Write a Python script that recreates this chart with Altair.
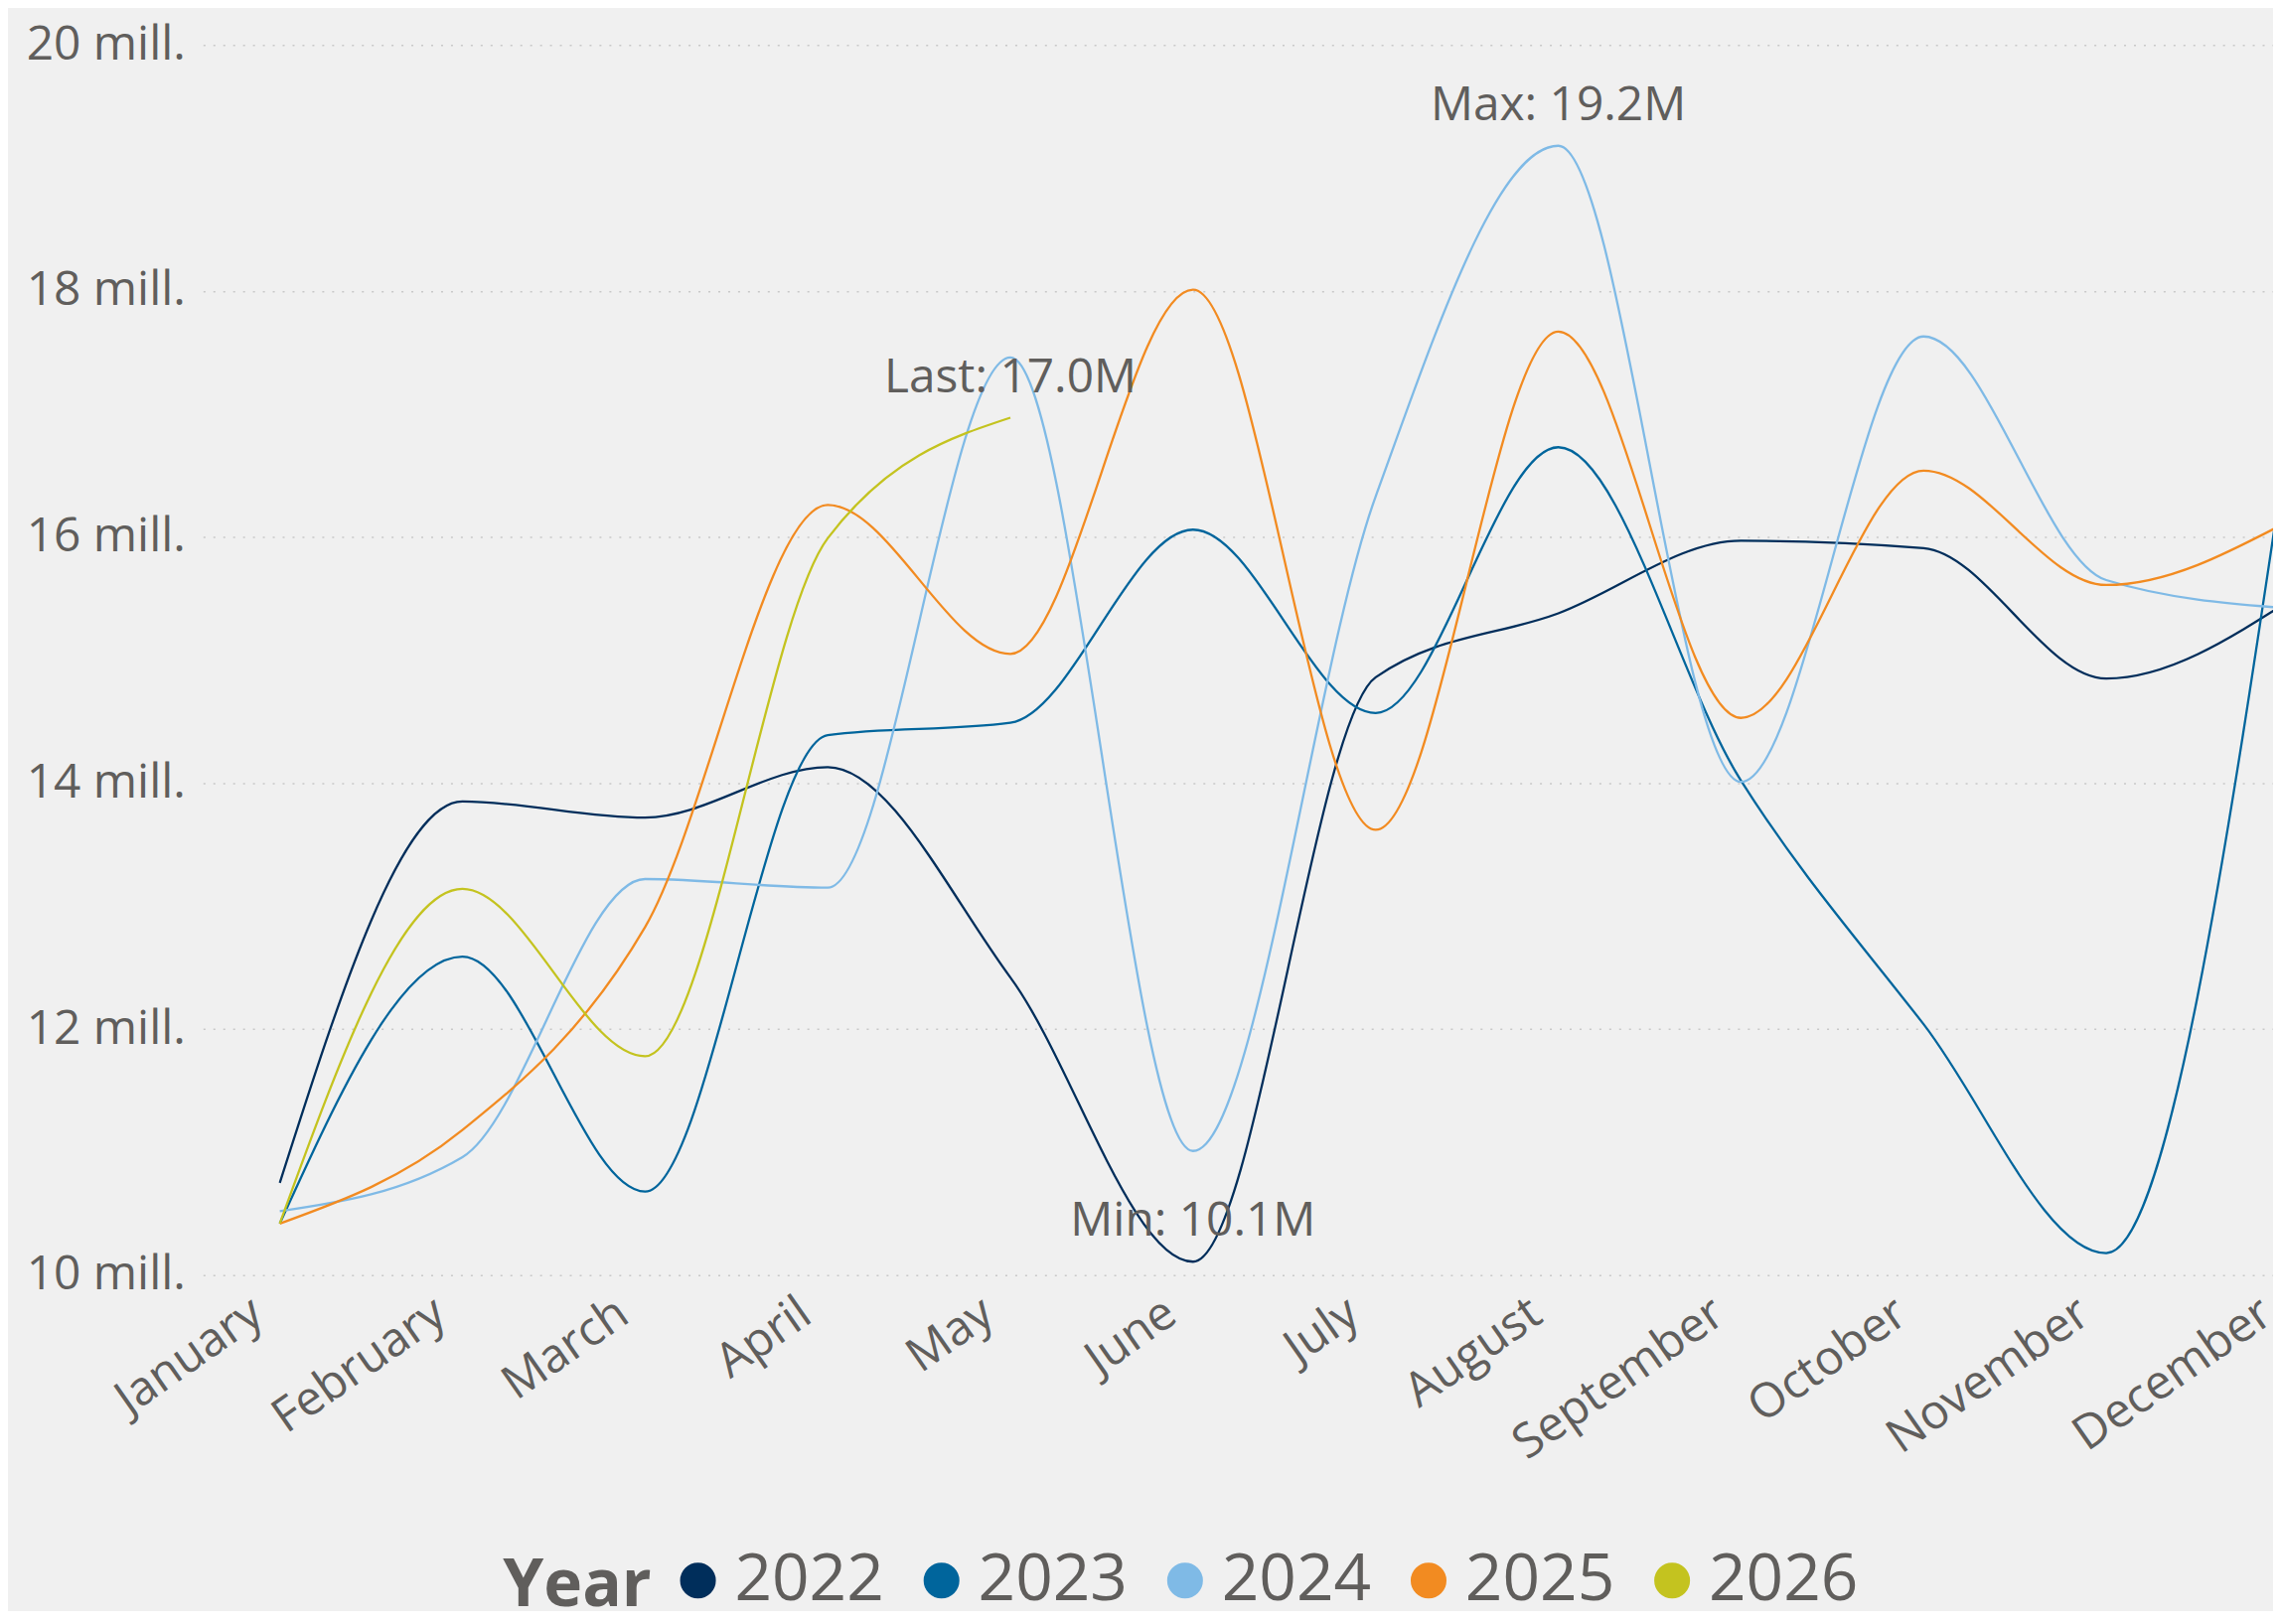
import json
import altair as alt
import pandas as pd

months = ["January", "February", "March", "April", "May", "June", "July",
          "August", "September", "October", "November", "December"]
years = ["2022", "2023", "2024", "2025", "2026"]
colors = ["#002E5B", "#00659C", "#7FBAE6", "#F28B21", "#C4C31F"]

# values in millions
v2022 = [10.75, 13.85, 13.72, 14.13, 12.42, 10.11, 14.86, 15.38, 15.97, 15.91, 14.85, 15.48]
v2023 = [10.42, 12.59, 10.68, 14.39, 14.49, 16.06, 14.57, 16.73, 14.02, 12.04, 10.18, 16.86]
v2024 = [10.52, 10.96, 13.22, 13.15, 17.46, 11.01, 16.33, 19.18, 14.01, 17.63, 15.65, 15.42]
v2025 = [10.42, 11.18, 12.83, 16.26, 15.05, 18.01, 13.62, 17.67, 14.53, 16.54, 15.61, 16.13]
v2026 = [10.42, 13.14, 11.78, 15.99, 16.97]
y_ticks = [10, 12, 14, 16, 18, 20]

series = [v2022, v2023, v2024, v2025, v2026]
rows = []
for yr, vals in zip(years, series):
    for i, v in enumerate(vals):
        rows.append({"Year": yr, "m": i, "Month": months[i], "v": v})
df = pd.DataFrame(rows)

mx = df.loc[df["v"].idxmax()]
mn = df.loc[df["v"].idxmin()]
last = df[df["Year"] == years[-1]].iloc[-1]
ann = pd.DataFrame([
    {"m": int(mx["m"]), "v": float(mx["v"]), "label": f"Max: {mx['v']:.1f}M"},
    {"m": int(mn["m"]), "v": float(mn["v"]), "label": f"Min: {mn['v']:.1f}M"},
    {"m": int(last["m"]), "v": float(last["v"]), "label": f"Last: {last['v']:.1f}M"},
])

FONT = "Open Sans"
TXT = "#605E5C"

# plot is 2091 px wide; December sits just past its right edge (clipped)
xscale = alt.Scale(domain=[-0.4206, 11], range=[0, 2107], nice=False, zero=False)
yscale = alt.Scale(domain=[10, 20], nice=False, zero=False)

x_axis = alt.Axis(
    values=list(range(12)),
    labelExpr=json.dumps(months) + "[datum.value]",
    labelAngle=-35, labelAlign="right", labelBaseline="top",
    labelFontSize=48, labelColor=TXT, labelFont=FONT, labelLimit=0,
    labelPadding=14, labelOffset=-36, labelOverlap=False,
    grid=False, ticks=False, domain=False, title=None,
)
y_axis = alt.Axis(
    values=y_ticks,
    labelExpr="datum.value + ' mill.'",
    labelFontSize=48, labelColor=TXT, labelFont=FONT,
    labelPadding=18, grid=True, gridDash=[2, 8], gridColor="#C8C8C8",
    gridWidth=1.5, ticks=False, domain=False, title=None,
)

lines = alt.Chart(df).mark_line(interpolate="monotone", strokeWidth=2.3, clip=True).encode(
    x=alt.X("m:Q", scale=xscale, axis=x_axis),
    y=alt.Y("v:Q", scale=yscale, axis=y_axis),
    color=alt.Color(
        "Year:N",
        scale=alt.Scale(domain=years, range=colors),
        legend=alt.Legend(
            orient="none", legendX=303, legendY=1518, direction="horizontal",
            title="Year", titleOrient="left", titleFontSize=66, titleFont=FONT,
            titleFontWeight="bold", titleColor=TXT, titlePadding=13,
            labelFontSize=66, labelFont=FONT, labelColor=TXT, labelOffset=4,
            symbolType="circle", symbolSize=330, symbolStrokeWidth=18,
            columnPadding=12,
        ),
    ),
    detail="Year:N",
)

labels = alt.Chart(ann).mark_text(
    font=FONT, fontSize=48, color=TXT, align="center", baseline="middle", dy=-40
).encode(
    x=alt.X("m:Q", scale=xscale),
    y=alt.Y("v:Q", scale=yscale),
    text="label:N",
)

chart = alt.layer(lines, labels).properties(
    width=2091, height=1243,
    autosize=alt.AutoSizeParams(type="none"),
    padding={"left": 197, "top": 34.5, "right": 0, "bottom": 336.5},
    background="#F0F0F0",
).configure_view(stroke=None)

chart.save("out.html", embed_options={"renderer": "svg", "actions": False})
